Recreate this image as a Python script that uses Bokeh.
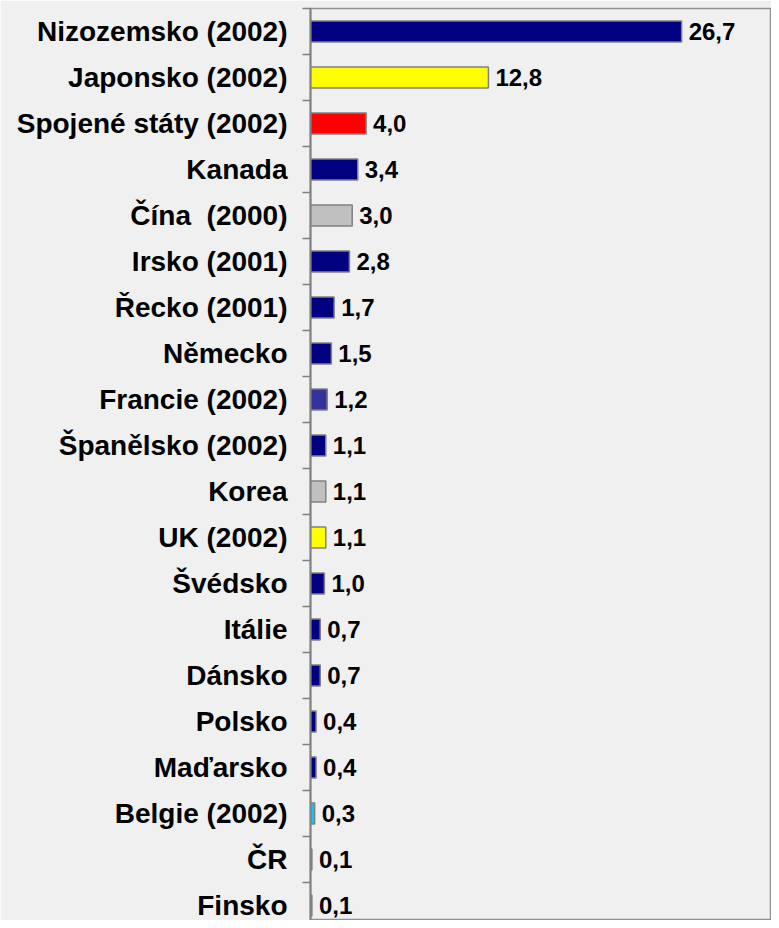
from bokeh.plotting import figure
from bokeh.models import Range1d, FixedTicker, CustomJSTickFormatter, ColumnDataSource
from bokeh.core.properties import value
from bokeh.embed import file_html
from bokeh.resources import INLINE

categories = ["Nizozemsko (2002)", "Japonsko (2002)", "Spojené státy (2002)", "Kanada",
              "Čína\u00a0 (2000)", "Irsko (2001)", "Řecko (2001)", "Německo", "Francie (2002)",
              "Španělsko (2002)", "Korea", "UK (2002)", "Švédsko", "Itálie", "Dánsko",
              "Polsko", "Maďarsko", "Belgie (2002)", "ČR", "Finsko"]
values = [26.7, 12.8, 4.0, 3.4, 3.0, 2.8, 1.7, 1.5, 1.2, 1.1, 1.1, 1.1, 1.0, 0.7, 0.7,
          0.4, 0.4, 0.3, 0.1, 0.1]
colors = ["#000080", "#FFFF00", "#FF0000", "#000080", "#C0C0C0", "#000080", "#000080",
          "#000080", "#333399", "#000080", "#C0C0C0", "#FFFF00", "#000080", "#000080",
          "#000080", "#000080", "#000080", "#00CCFF", "#000080", "#000080"]

BG = "#F0F0F0"
n = len(categories)
ypos = [i + 0.5 for i in range(n)]
labels = [f"{v:.1f}".replace(".", ",") for v in values]

src = ColumnDataSource(dict(y=ypos, v=values, c=colors, lab=labels))

W, H, LEFT, TOP = 771, 920, 310, 8
BAND = 46.0      # px per category band
PX_PER_UNIT = 13.9

p = figure(width=W, height=H, output_backend="svg", toolbar_location=None,
           x_range=Range1d(0, (W - LEFT) / PX_PER_UNIT),
           y_range=Range1d((H - TOP) / BAND, 0),
           min_border_left=LEFT, min_border_right=0, min_border_top=TOP, min_border_bottom=0)
p.background_fill_color = BG
p.border_fill_color = BG
p.outline_line_color = "#909090"
p.outline_line_width = 1.5
p.grid.visible = False
p.xaxis.visible = False

p.hbar(y="y", left=0, right="v", height=0.46, fill_color="c", line_color="#808080",
       line_width=1.5, source=src)
p.text(x="v", y="y", text="lab", x_offset=7, text_baseline="middle", text_align="left",
       text_font=value("Liberation Sans"), text_font_style="bold", text_font_size="24px",
       text_color="black", source=src)

ya = p.yaxis[0]
ya.ticker = FixedTicker(ticks=ypos, minor_ticks=list(range(n + 1)))
ya.formatter = CustomJSTickFormatter(args=dict(names=categories),
                                     code="return names[Math.floor(tick)] || '';")
ya.axis_line_color = "#808080"
ya.axis_line_width = 2
ya.major_tick_out = 0
ya.major_tick_in = 0
ya.minor_tick_out = 8
ya.minor_tick_in = 0
ya.minor_tick_line_color = "#808080"
ya.minor_tick_line_width = 1.5
ya.major_label_standoff = 15
ya.major_label_text_font = "Liberation Sans"
ya.major_label_text_font_style = "bold"
ya.major_label_text_font_size = "28px"
ya.major_label_text_color = "black"

html = file_html(p, INLINE)
html = html.replace("<body>", '<body style="background:%s">' % BG, 1)
open("out.html", "w").write(html)
